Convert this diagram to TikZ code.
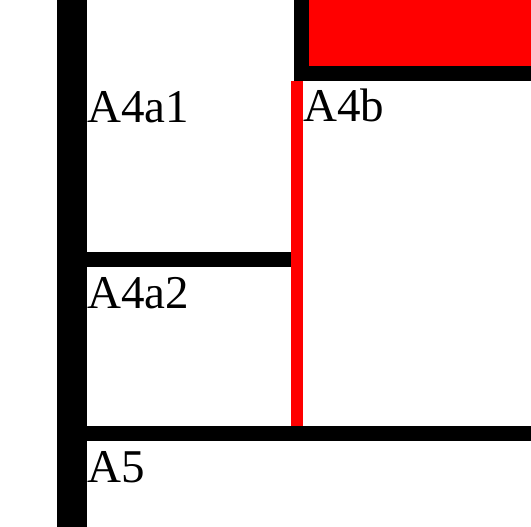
\documentclass[tikz,border=0pt]{standalone}
\usepackage{fontspec}
\setmainfont{Liberation Serif}
\usetikzlibrary{positioning}
\definecolor{cellred}{RGB}{255,0,0}
\tikzset{
  wall/.style={fill=black, draw=none},
  redwall/.style={fill=cellred, draw=none},
  cell label/.style={anchor=base west, inner sep=0pt, font=\fontsize{47}{51}\selectfont}
}

\begin{document}
\begin{tikzpicture}[x=1pt, y=-1pt]
  \useasboundingbox (0,0) rectangle (531,527);

  % left wall
  \fill[wall] (57,0) rectangle (87,527);

  % top right block (black frame, red fill)
  \fill[wall] (294,0) rectangle (531,81);
  \fill[redwall] (309,0) rectangle (531,66);

  % red divider between A4a and A4b
  \fill[redwall] (291,81) rectangle (303,426);

  % divider between A4a1 and A4a2
  \fill[wall] (87,252.3) rectangle (291,266.7);

  % divider above A5
  \fill[wall] (87,426) rectangle (531,440.7);

  % cell labels
  \node[cell label] (a4a1) at (87,123) {A4a1};
  \node[cell label] (a4b) at (303,122) {A4b};
  \node[cell label] (a4a2) at (87,308.3) {A4a2};
  \node[cell label] (a5) at (87,482) {A5};
\end{tikzpicture}
\end{document}
